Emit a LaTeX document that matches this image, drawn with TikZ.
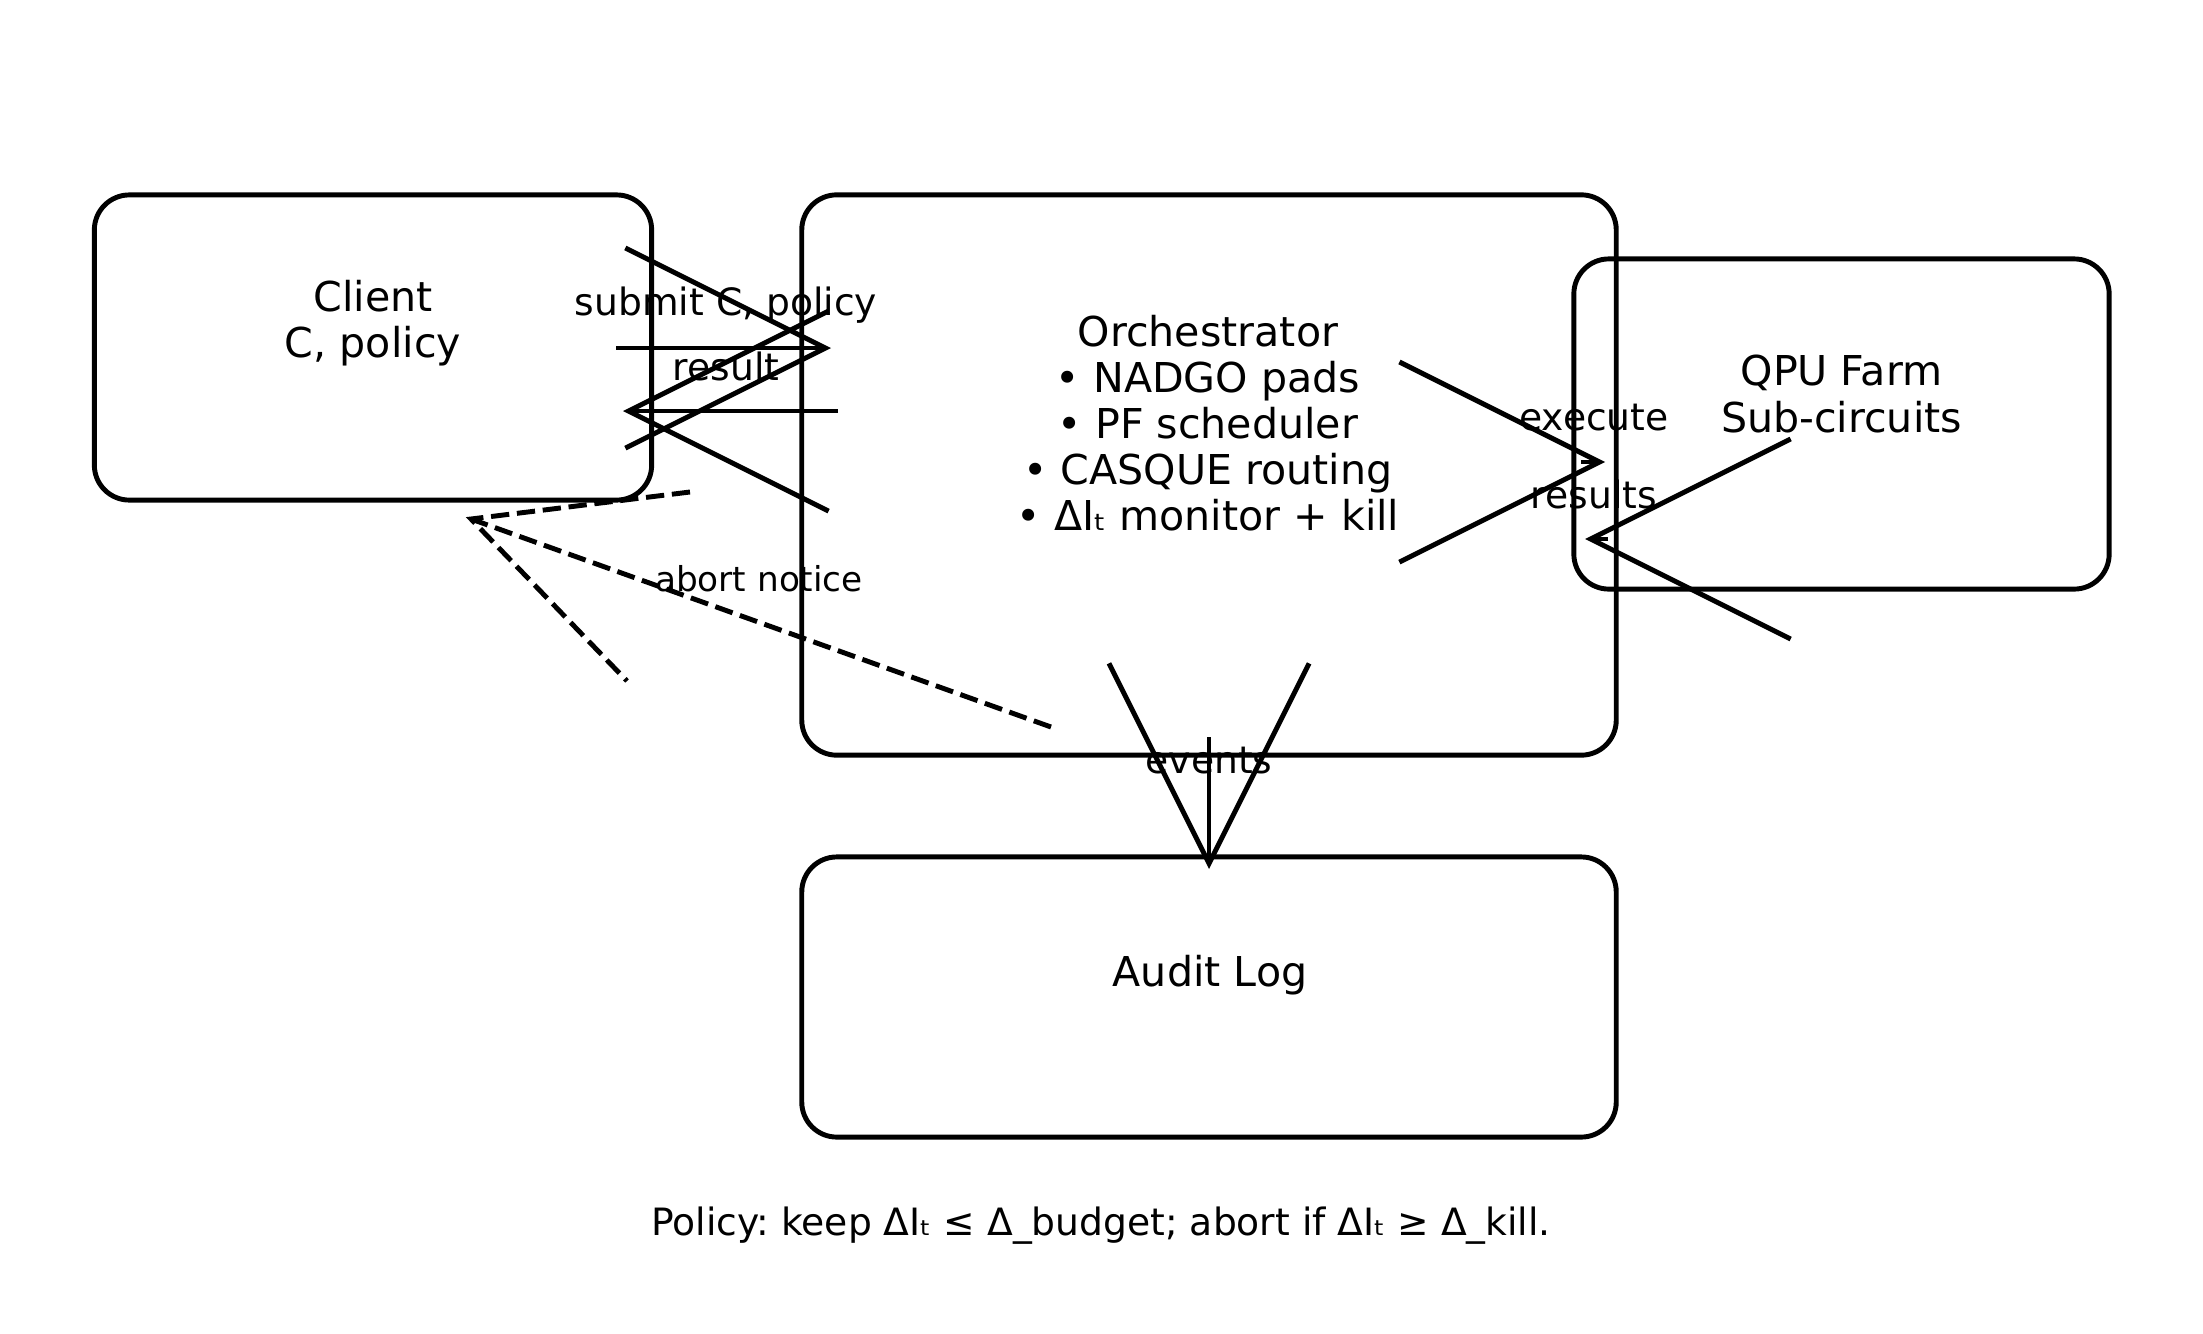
\documentclass[tikz,border=0pt]{standalone}
\usepackage{fontspec}
\setmainfont{DejaVu Sans}
\usetikzlibrary{arrows.meta}
\usetikzlibrary{calc}
\frenchspacing

\tikzset{
	box/.style={draw, line width=1.4pt, rounded corners=0.35cm, inner sep=0pt},
	boxtext/.style={align=center, inner sep=0pt, font=\fontsize{11.7}{13.1}\selectfont},
	lab/.style={inner sep=0pt, font=\fontsize{10.7}{12.8}\selectfont},
	arr/.style={line width=1.4pt, -{Straight Barb[length=2cm, width=2cm]}},
	abortline/.style={line width=1.4pt, dash pattern=on 5.2pt off 2.2pt},
}

\begin{document}
\begin{tikzpicture}[x=0.01cm, y=-0.01cm]
	
	\useasboundingbox (0,0) rectangle (2203,1333);
	
	\node[box, minimum width=5.57cm, minimum height=3.05cm] (client) at (373,347.5) {};
	\node[box, minimum width=8.14cm, minimum height=5.60cm] (orch) at (1209,475) {};
	\node[box, minimum width=5.35cm, minimum height=3.30cm] (qpu) at (1841.5,424) {};
	\node[box, minimum width=8.14cm, minimum height=2.80cm] (audit) at (1209,997) {};
	
	\node[boxtext] (client-t) at (373,323) {Client\\C, policy};
	\node[boxtext] (orch-t) at (1208,423) {Orchestrator\\• NADGO pads\\• PF scheduler\\• CASQUE routing\\• ΔIₜ monitor + kill};
	\node[boxtext] (qpu-t) at (1841.5,394) {QPU Farm\\Sub-circuits};
	\node[boxtext] (audit-t) at (1210,975) {Audit Log};
	
	\coordinate (sub-s) at (616,348);
	\coordinate (sub-e) at (831,348);
	\coordinate (res-s) at (838,411);
	\coordinate (res-e) at (623,411);
	\coordinate (exe-s) at (1581,462);
	\coordinate (exe-e) at (1605,462);
	\coordinate (ret-s) at (1608,539);
	\coordinate (ret-e) at (1585,539);
	\coordinate (ev-s) at (1209,737);
	\coordinate (ev-e) at (1209,869);
	\coordinate (ab-s) at (1051,727);
	\coordinate (ab-e) at (471,519);
	\coordinate (ab-l) at (690,492);
	\coordinate (ab-r) at (627,681);
	
	\draw[arr] (sub-s) -- (sub-e);
	\draw[arr] (res-s) -- (res-e);
	\draw[arr] (exe-s) -- (exe-e);
	\draw[arr] (ret-s) -- (ret-e);
	\draw[arr] (ev-s) -- (ev-e);
	\draw[abortline] (ab-s) -- (ab-e);
	\draw[abortline] (ab-l) -- (ab-e) -- (ab-r);
	
	\node[lab] (sub-l) at (726,305) {submit C, policy};
	\node[lab] (res-l) at (726,366) {result};
	\node[lab] (exe-l) at (1594,418) {execute};
	\node[lab] (ret-l) at (1594,494) {results};
	\node[lab] (ev-l) at (1209,761) {events};
	\node[lab, font=\fontsize{9.75}{11.7}\selectfont] (ab-t) at (759,579) {abort notice};
	
	\node[lab] (policy) at (1101,1226) {Policy: keep ΔIₜ ≤ Δ\_budget; abort if ΔIₜ ≥ Δ\_kill.};
	
\end{tikzpicture}
\end{document}
